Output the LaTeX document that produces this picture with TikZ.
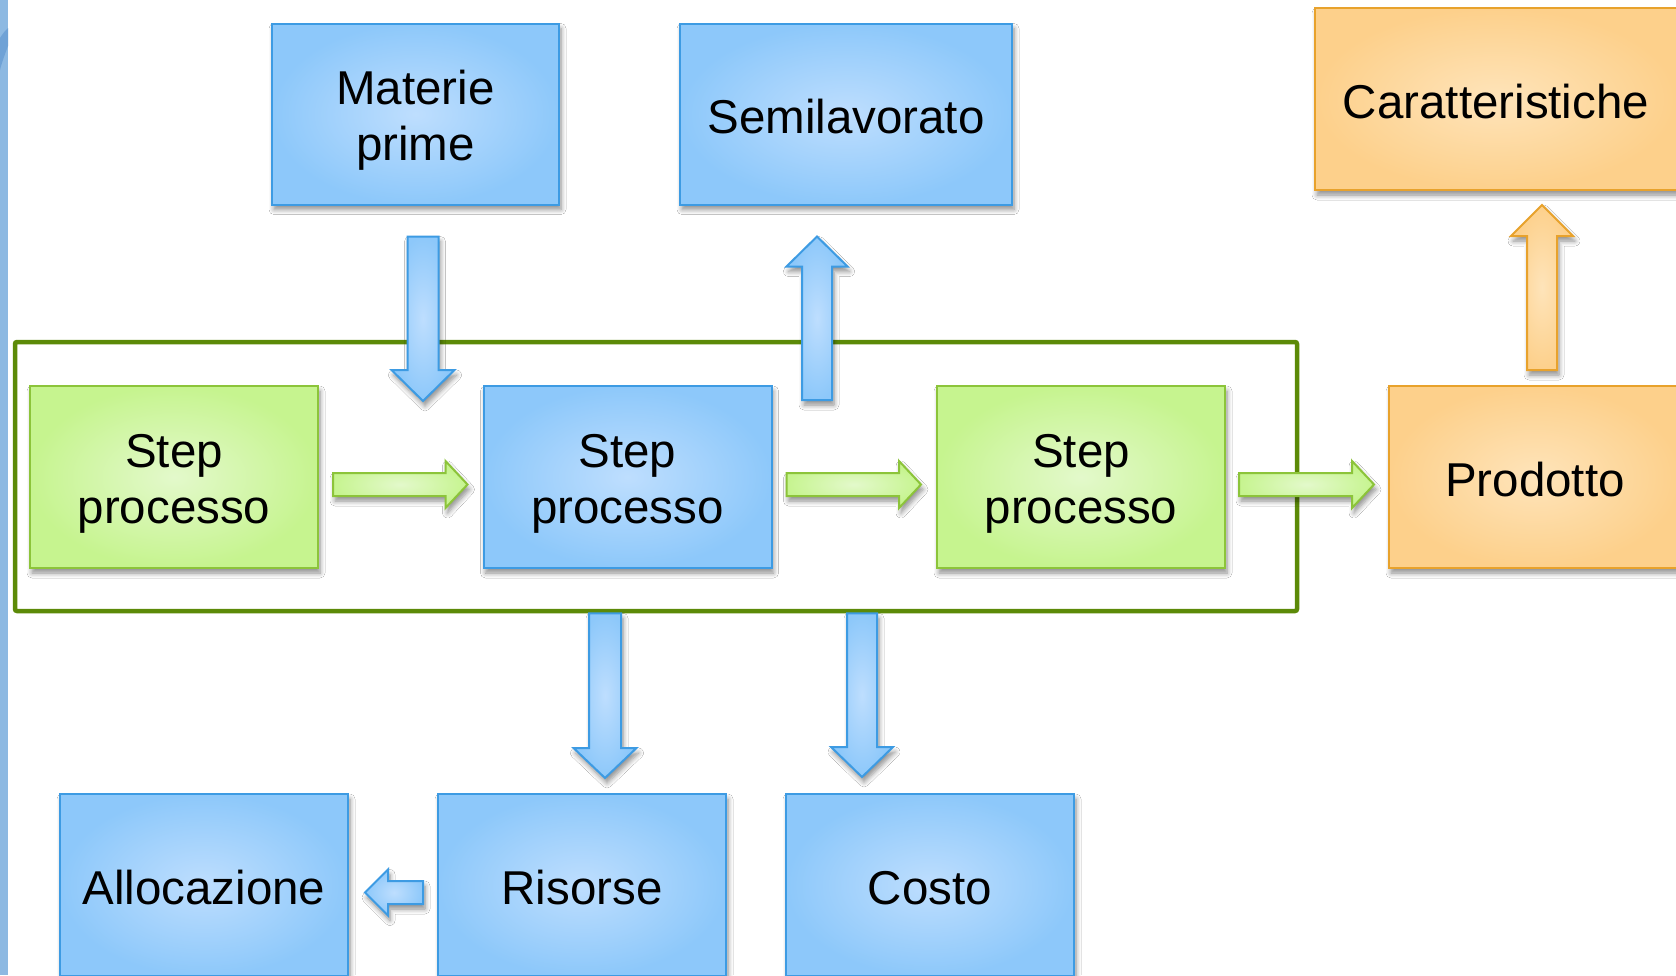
\documentclass[tikz,border=0pt]{standalone}
\usepackage{fontspec}
\setmainfont{Liberation Sans}
\usetikzlibrary{calc,shadows.blur}

\definecolor{blueedge}{HTML}{3D9BE3}
\definecolor{bluein}{HTML}{BEDEFE}
\definecolor{blueout}{HTML}{8DC8FA}
\definecolor{greenedge}{HTML}{8CC43A}
\definecolor{greenin}{HTML}{E3F9CB}
\definecolor{greenout}{HTML}{C6F48F}
\definecolor{orangeedge}{HTML}{E8A22C}
\definecolor{orangein}{HTML}{FEE4BA}
\definecolor{orangeout}{HTML}{FDD08B}
\definecolor{framegreen}{HTML}{5C8A08}
\definecolor{stripblue}{HTML}{8DB9E2}
\definecolor{stripdark}{HTML}{6FA2D6}

% struts that set the vertical placement of box labels
\newcommand\onestrut{\rule{0pt}{39pt}}
\newcommand\twostrut{\rule{0pt}{47pt}}

\tikzset{
  softshadow/.style={blur shadow={shadow xshift=2pt, shadow yshift=-5pt,
      shadow blur radius=5pt, shadow blur steps=6, shadow opacity=45}},
  box/.style={rectangle, inner sep=0pt, line width=2pt, align=center,
    font=\fontsize{47.5}{56}\selectfont, softshadow},
  bluebox/.style={box, draw=blueedge, inner color=bluein, outer color=blueout},
  greenbox/.style={box, draw=greenedge, inner color=greenin, outer color=greenout},
  orangebox/.style={box, draw=orangeedge, inner color=orangein, outer color=orangeout},
  stepsize/.style={minimum width=288pt, minimum height=182pt},
  barrow/.style={line width=2pt, line join=miter, softshadow},
  bluearrow/.style={barrow, draw=blueedge, inner color=bluein, outer color=blueout},
  greenarrow/.style={barrow, draw=greenedge, inner color=greenin, outer color=greenout},
  orangearrow/.style={barrow, draw=orangeedge, inner color=orangein, outer color=orangeout},
}

% block arrow: style, tail, tip, half shaft width, half head width, head length
\newcommand\blockarrow[6]{%
  \coordinate (bahead) at ($(#3)!#6pt!(#2)$);
  \draw[#1] ($(#2)!#4pt!90:(#3)$) -- ($(bahead)!#4pt!90:(#3)$)
    -- ($(bahead)!#5pt!90:(#3)$) -- (#3)
    -- ($(bahead)!#5pt!-90:(#3)$) -- ($(bahead)!#4pt!-90:(#3)$)
    -- ($(#2)!#4pt!-90:(#3)$) -- cycle;
}

\begin{document}
\begin{tikzpicture}[x=1pt, y=-1pt]
  \useasboundingbox (0,0) rectangle (1676,975);
  \fill[white] (0,0) rectangle (1676,975);
  \clip (0,0) rectangle (1676,975);

  % side strip
  \fill[stripblue] (0,0) rectangle (8,975);
  \fill[stripdark] (0,38) .. controls (3,33) and (6,30) .. (8,28)
    -- (8,46) .. controls (5,54) and (2,62) .. (0,70) -- cycle;

  % process frame
  \node[draw=framegreen, line width=4.5pt, rounded corners=2pt, inner sep=0pt,
        minimum width=1282pt, minimum height=269pt] (frame) at (656,476.5) {};

  % top row
  \node[bluebox, minimum width=287pt, minimum height=181pt] (mp) at (415.5,114) {\twostrut Materie\\prime};
  \node[bluebox, minimum width=332pt, minimum height=181pt] (sl) at (846,114) {\onestrut Semilavorato};
  \node[orangebox, minimum width=362pt, minimum height=182pt] (car) at (1496,99) {\onestrut Caratteristiche};

  % process steps
  \node[greenbox, stepsize] (s1) at (174,477) {\twostrut Step\\processo};
  \node[bluebox, stepsize] (s2) at (627.5,477) {\twostrut Step\\processo};
  \node[greenbox, stepsize] (s3) at (1081,477) {\twostrut Step\\processo};
  \node[orangebox, minimum width=292pt, minimum height=182pt] (prod) at (1535,477) {\onestrut Prodotto};

  % bottom row
  \node[bluebox, stepsize] (alloc) at (204,885) {\onestrut Allocazione};
  \node[bluebox, stepsize] (ris) at (582,885) {\onestrut Risorse};
  \node[bluebox, stepsize] (costo) at (930,885) {\onestrut Costo};

  % arrow end points
  \coordinate (g1t) at ($(s1.east)+(14,7.5)$);
  \coordinate (g1h) at ($(s2.west)+(-15,7.5)$);
  \coordinate (g2t) at ($(s2.east)+(14,7.5)$);
  \coordinate (g2h) at ($(s3.west)+(-15,7.5)$);
  \coordinate (g3t) at ($(s3.east)+(13,7.5)$);
  \coordinate (g3h) at ($(prod.west)+(-14,7.5)$);
  \coordinate (m1t) at ($(mp.south)+(7.5,31)$);
  \coordinate (m1h) at ($(m1t |- s2.north)+(0,16)$);
  \coordinate (u1h) at ($(sl.south)+(-29,31)$);
  \coordinate (u1t) at ($(u1h |- s2.north)+(0,15)$);
  \coordinate (r1h) at ($(ris.north)+(23,-15)$);
  \coordinate (r1t) at (r1h |- frame.south);
  \coordinate (c1h) at ($(costo.north)+(-68,-16)$);
  \coordinate (c1t) at (c1h |- frame.south);
  \coordinate (o1t) at ($(prod.north)+(7,-15)$);
  \coordinate (o1h) at ($(o1t |- car.south)+(0,14)$);
  \coordinate (l1t) at ($(ris.west)+(-14,7.5)$);
  \coordinate (l1h) at ($(alloc.east)+(16,7.5)$);

  % block arrows
  \blockarrow{greenarrow}{g1t}{g1h}{11.5}{23.5}{22}
  \blockarrow{greenarrow}{g2t}{g2h}{11.5}{23.5}{22}
  \blockarrow{greenarrow}{g3t}{g3h}{11.5}{23.5}{22}
  \blockarrow{bluearrow}{m1t}{m1h}{15.5}{31.5}{31}
  \blockarrow{bluearrow}{u1t}{u1h}{15}{30.5}{30}
  \blockarrow{bluearrow}{r1t}{r1h}{16}{31.5}{30}
  \blockarrow{bluearrow}{c1t}{c1h}{15}{31}{30}
  \blockarrow{orangearrow}{o1t}{o1h}{15}{31}{31}
  \blockarrow{bluearrow}{l1t}{l1h}{11.5}{23}{23}
\end{tikzpicture}
\end{document}
